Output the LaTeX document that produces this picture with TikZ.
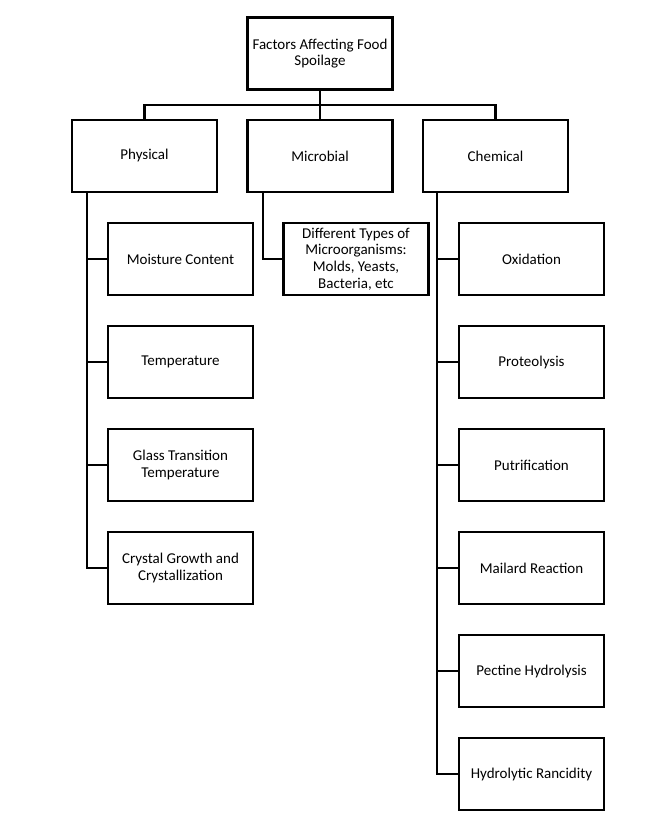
\documentclass[tikz,border=0pt]{standalone}
\usepackage{fontspec}
\setmainfont{Carlito}
\begin{document}
\begin{tikzpicture}[x=1pt,y=-1pt,
  box/.style={draw=black,line width=2.8pt,fill=white,rectangle,minimum width=145pt,minimum height=72pt,align=center,inner sep=2pt,font=\fontsize{15}{16.8}\selectfont},
  conn/.style={draw=black,line width=2.8pt}]
\useasboundingbox (0,0) rectangle (656,818);
\node[box] (top) at (320,53.5) {Factors Affecting Food\\Spoilage};
\node[box] (phys) at (144.5,156) {Physical};
\node[box] (micro) at (320,156) {Microbial};
\node[box] (chem) at (495.5,156) {Chemical};
\node[box] (p1) at (180.5,259) {Moisture Content};
\node[box] (p2) at (180.5,362) {Temperature};
\node[box] (p3) at (180.5,465) {Glass Transition\\Temperature};
\node[box] (p4) at (180.5,568) {Crystal Growth and\\Crystallization};
\node[box] (m1) at (356,259) {Different Types of\\Microorganisms:\\Molds, Yeasts,\\Bacteria, etc};
\node[box] (c1) at (531.5,259) {Oxidation};
\node[box] (c2) at (531.5,362) {Proteolysis};
\node[box] (c3) at (531.5,465) {Putrification};
\node[box] (c4) at (531.5,568) {Mailard Reaction};
\node[box] (c5) at (531.5,671) {Pectine Hydrolysis};
\node[box] (c6) at (531.5,774) {Hydrolytic Rancidity};
\coordinate (bar) at (0,105);
\coordinate (ps) at (87,192);
\coordinate (ms) at (263,192);
\coordinate (cs) at (437,192);
\draw[conn] (top.south) -- (top.south |- bar);
\draw[conn,line cap=rect] (phys.north) -- (phys.north |- bar) -- (chem.north |- bar) -- (chem.north);
\draw[conn] (micro.north) -- (micro.north |- bar);
\draw[conn] (ps) |- (p4.west);
\foreach \n in {p1,p2,p3} \draw[conn] (ps |- \n.west) -- (\n.west);
\draw[conn] (ms) |- (m1.west);
\draw[conn] (cs) |- (c6.west);
\foreach \n in {c1,c2,c3,c4,c5} \draw[conn] (cs |- \n.west) -- (\n.west);
\end{tikzpicture}
\end{document}
